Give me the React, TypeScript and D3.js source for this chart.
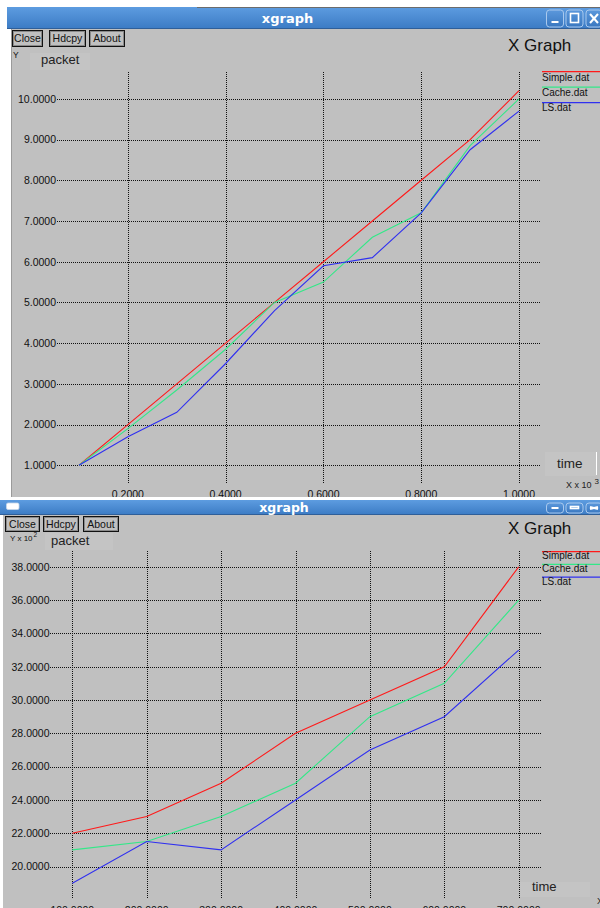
import React from "react";
import * as d3 from "d3";

// ---------- data ----------
const topX = [0.1, 0.2, 0.3, 0.4, 0.5, 0.6, 0.7, 0.8, 0.9, 1.0];
const topSimple = [1, 2, 3, 4, 5, 6, 7, 8, 9, 10.2];
const topCache = [1, 1.9, 2.85, 3.85, 5.0, 5.5, 6.6, 7.2, 8.85, 10.0];
const topLS = [1, 1.7, 2.3, 3.5, 4.8, 5.9, 6.1, 7.2, 8.75, 9.7];
const topXTicks = [0.2, 0.4, 0.6, 0.8, 1.0];
const topYTicks = [1, 2, 3, 4, 5, 6, 7, 8, 9, 10];

const botX = [100, 200, 300, 400, 500, 600, 700];
const botSimple = [22, 23, 25, 28, 30, 32, 38];
const botCache = [21, 21.5, 23, 25, 29, 31, 36];
const botLS = [19, 21.5, 21, 24, 27, 29, 33];
const botXTicks = [100, 200, 300, 400, 500, 600, 700];
const botYTicks = [20, 22, 24, 26, 28, 30, 32, 34, 36, 38];

const seriesNames = ["Simple.dat", "Cache.dat", "LS.dat"];
const seriesColors = ["#ff1a1a", "#33e888", "#3030f0"];

const SANS = "'Liberation Sans', Arial, sans-serif";
const BG = "#c0c0c0";

function pad(arr: number[]): [number, number] {
  const mn = d3.min(arr) as number;
  const mx = d3.max(arr) as number;
  const p = (mx - mn) * 0.05;
  return [mn - p, mx + p];
}

type PlotProps = {
  xs: number[];
  series: number[][];
  xTicks: number[];
  yTicks: number[];
  xRange: [number, number];
  yRange: [number, number];
  labelEnd: number;
  xLabelBaseline: number;
};

function Plot({ xs, series, xTicks, yTicks, xRange, yRange, labelEnd, xLabelBaseline }: PlotProps) {
  const x = d3.scaleLinear().domain(pad(xs)).range(xRange);
  const y = d3.scaleLinear().domain(pad(series.flat())).range(yRange);
  const line = d3
    .line<number>()
    .x((_, i) => x(xs[i]))
    .y((d) => y(d));
  return (
    <g>
      {yTicks.map((t) => (
        <g key={"y" + t}>
          <line
            x1={xRange[0]}
            x2={xRange[1]}
            y1={Math.round(y(t)) + 0.5}
            y2={Math.round(y(t)) + 0.5}
            stroke="#111"
            strokeDasharray="1,1"
            shapeRendering="crispEdges"
          />
          <text x={labelEnd} y={y(t) + 3.8} textAnchor="end" fontSize={10.5} fontFamily={SANS} fill="#111">
            {t.toFixed(4)}
          </text>
        </g>
      ))}
      {xTicks.map((t) => (
        <g key={"x" + t}>
          <line
            x1={Math.round(x(t)) + 0.5}
            x2={Math.round(x(t)) + 0.5}
            y1={yRange[1]}
            y2={yRange[0]}
            stroke="#111"
            strokeDasharray="1,1"
            shapeRendering="crispEdges"
          />
          <text x={x(t)} y={xLabelBaseline} textAnchor="middle" fontSize={10.5} fontFamily={SANS} fill="#111">
            {t.toFixed(4)}
          </text>
        </g>
      ))}
      {series.map((s, i) => (
        <path key={i} d={line(s) || ""} fill="none" stroke={seriesColors[i]} strokeWidth={1.1} />
      ))}
    </g>
  );
}

function TitleBar({ x0, y0, h, titleX, titleY, fs }: { x0: number; y0: number; h: number; titleX: number; titleY: number; fs: number }) {
  const by = y0 + 3;
  const bh = h - 5;
  return (
    <g>
      <rect x={x0} y={y0} width={600 - x0} height={h} fill="url(#tbgrad)" />
      <line x1={x0} x2={600} y1={y0 + h - 0.5} y2={y0 + h - 0.5} stroke="#2f5f99" />
      <text x={titleX} y={titleY} textAnchor="middle" fontSize={fs} fontWeight="bold" fontFamily="'DejaVu Sans', sans-serif" fill="#fff">
        xgraph
      </text>
      {[546.5, 566, 586].map((bx, i) => (
        <g key={i}>
          <rect x={bx} y={by} width={i === 2 ? 16 : 17} height={bh} rx={3} fill="url(#btngrad)" stroke="#a9c9ee" strokeWidth={1} />
          {i === 0 && <rect x={bx + 5} y={by + bh - 6} width={7} height={2} fill="#fff" />}
          {i === 1 && <rect x={bx + 4.5} y={by + 3.5} width={8} height={bh - 8} fill="none" stroke="#fff" strokeWidth={1.6} />}
          {i === 2 && (
            <g stroke="#fff" strokeWidth={2}>
              <line x1={bx + 4} y1={by + 4} x2={bx + 12} y2={by + bh - 4} />
              <line x1={bx + 12} y1={by + 4} x2={bx + 4} y2={by + bh - 4} />
            </g>
          )}
        </g>
      ))}
    </g>
  );
}

function Buttons({ y0, h, xs, baseline }: { y0: number; h: number; xs: [number, number, string][]; baseline: number }) {
  return (
    <g>
      {xs.map(([bx, bw, label]) => (
        <g key={label}>
          <rect x={bx + 0.5} y={y0 + 0.5} width={bw} height={h} fill={BG} stroke="#111" strokeWidth={1} />
          <rect x={bx + 1.5} y={y0 + 1.5} width={bw - 2} height={h - 2} fill="none" stroke="#8a8a8a" strokeWidth={1} />
          <text x={bx + bw / 2 + 0.5} y={baseline} textAnchor="middle" fontSize={10.5} fontFamily={SANS} fill="#111">
            {label}
          </text>
        </g>
      ))}
    </g>
  );
}

function Legend({ lineY0, textY0, step, textStep }: { lineY0: number; textY0: number; step: number; textStep: number }) {
  return (
    <g>
      {seriesNames.map((n, i) => (
        <g key={n}>
          <line x1={542} x2={600} y1={lineY0 + i * step} y2={lineY0 + i * step} stroke={seriesColors[i]} strokeWidth={1.2} />
          <text x={542} y={textY0 + i * textStep} fontSize={10} fontFamily={SANS} fill="#111">
            {n}
          </text>
        </g>
      ))}
    </g>
  );
}

export default function App() {
  return (
    <svg
      width={600}
      height={908}
      viewBox="0 0 600 908"
      style={{ position: "absolute", left: 0, top: 0, display: "block" }}
    >
      <defs>
        <linearGradient id="tbgrad" x1="0" y1="0" x2="0" y2="1">
          <stop offset="0" stopColor="#5d9ce0" />
          <stop offset="1" stopColor="#3b7bc4" />
        </linearGradient>
        <linearGradient id="btngrad" x1="0" y1="0" x2="0" y2="1">
          <stop offset="0" stopColor="#5b98dc" />
          <stop offset="1" stopColor="#3a78c0" />
        </linearGradient>
      </defs>
      <rect x={0} y={0} width={600} height={908} fill="#fff" />

      {/* ---------- top window ---------- */}
      <TitleBar x0={7} y0={7} h={22} titleX={287.5} titleY={23} fs={13} />
      <line x1={197} x2={600} y1={7.5} y2={7.5} stroke="#6c6c6c" />
      <rect x={11} y={29} width={589} height={468} fill={BG} />
      <line x1={11.5} x2={11.5} y1={29} y2={497} stroke="#9a9a9a" />
      <Buttons
        y0={30}
        h={16}
        baseline={42}
        xs={[
          [12, 30, "Close"],
          [49, 36, "Hdcpy"],
          [89, 35, "About"],
        ]}
      />
      <rect x={30} y={53} width={60} height={17} fill="#c4c4c4" />
      <text x={13} y={58} fontSize={8.5} fontFamily={SANS} fill="#111">Y</text>
      <text x={41} y={64} fontSize={13} fontFamily={SANS} fill="#222">packet</text>
      <text x={508} y={50.7} fontSize={17} fontFamily={SANS} fill="#111">X Graph</text>
      <Legend lineY0={71.7} textY0={81} step={15.5} textStep={15.2} />
      <Plot
        xs={topX}
        series={[topSimple, topCache, topLS]}
        xTicks={topXTicks}
        yTicks={topYTicks}
        xRange={[57, 541]}
        yRange={[484, 72]}
        labelEnd={56}
        xLabelBaseline={498}
      />
      <rect x={545} y={452} width={51} height={24} fill="#c4c4c4" />
      <text x={557} y={468.3} fontSize={13.5} fontFamily={SANS} fill="#222">time</text>
      <text x={566} y={488} fontSize={9} fontFamily={SANS} fill="#222">X x 10</text>
      <text x={594.5} y={484} fontSize={8} fontFamily={SANS} fill="#222">3</text>
      <line x1={596.5} x2={596.5} y1={452} y2={475} stroke="#fff" />

      {/* ---------- bottom window ---------- */}
      <rect x={0} y={497} width={600} height={3} fill="#fff" />
      <TitleBar x0={0} y0={500} h={15} titleX={284} titleY={511.5} fs={12.5} />
      <rect x={6.5} y={503} width={12.5} height={6.5} rx={1.5} fill="#fff" stroke="#c8d8ea" strokeWidth={0.8} />
      <rect x={3} y={515} width={597} height={393} fill={BG} />
      <Buttons
        y0={516}
        h={15}
        baseline={527.5}
        xs={[
          [5, 34, "Close"],
          [43, 35, "Hdcpy"],
          [83, 35, "About"],
        ]}
      />
      <rect x={45} y={533} width={68} height={17} fill="#c4c4c4" />
      <text x={10} y={541} fontSize={8} fontFamily={SANS} fill="#111">Y x 10</text>
      <text x={33.5} y={537} fontSize={6.5} fontFamily={SANS} fill="#111">2</text>
      <text x={51} y={545} fontSize={13} fontFamily={SANS} fill="#222">packet</text>
      <text x={508} y={534.3} fontSize={17} fontFamily={SANS} fill="#111">X Graph</text>
      <Legend lineY0={551.7} textY0={559.3} step={12.7} textStep={12.8} />
      <Plot
        xs={botX}
        series={[botSimple, botCache, botLS]}
        xTicks={botXTicks}
        yTicks={botYTicks}
        xRange={[50, 541]}
        yRange={[899, 551]}
        labelEnd={49.5}
        xLabelBaseline={914}
      />
      <rect x={520} y={882} width={70} height={15} fill="#c4c4c4" />
      <text x={532} y={890.7} fontSize={13} fontFamily={SANS} fill="#222">time</text>
      <text x={597} y={904} fontSize={9} fontFamily={SANS} fill="#222">X</text>
    </svg>
  );
}
